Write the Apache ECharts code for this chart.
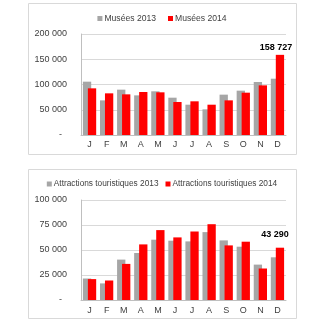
<!DOCTYPE html>
<html><head><meta charset="utf-8">
<script src="https://cdn.jsdelivr.net/npm/echarts@6/dist/echarts.min.js"></script>
<style>html,body{margin:0;padding:0;background:#fff}#c{width:324px;height:324px}</style>
</head><body><div id="c"></div>
<script>
var months = ['J','F','M','A','M','J','J','A','S','O','N','D'];
var museesNames = ['Musées 2013','Musées 2014'];
var musees2013 = [105600, 68600, 89800, 78500, 86500, 73900, 60000, 50800, 79900, 87800, 105000, 111500];
var musees2014 = [92400, 82500, 80500, 85100, 84500, 65300, 66700, 60000, 68600, 83800, 98300, 158727];
var attrNames = ['Attractions touristiques 2013','Attractions touristiques 2014'];
var attr2013 = [21500, 16600, 40400, 47000, 60300, 59300, 58600, 67900, 59600, 53300, 35400, 42700];
var attr2014 = [20900, 19500, 36100, 55600, 69900, 62600, 68500, 75800, 54600, 58300, 31500, 52300];
var museesLabel = '158 727';
var attrLabel = '43 290';
var yTicks1 = {min:0, max:200000, interval:50000};
var yTicks2 = {min:0, max:100000, interval:25000};

var FONT = 'Liberation Sans';
var TXT = '#404040';
function fmt(v){ if(v===0) return '-  '; return String(v).replace(/\B(?=(\d{3})+(?!\d))/g,' '); }
function lastLabel(arr, text, off){
  return arr.map(function(v,i){
    if(i===arr.length-1) return {value:v, label:{show:true, position:'top', distance:3, offset:off, formatter:text, fontFamily:FONT, fontSize:9, fontWeight:'bold', color:'#000'}};
    return v;
  });
}
var GRAY='#a6a6a6', RED='#ff0000';
function xAx(gi, margin){ return {type:'category', gridIndex:gi, data:months, axisTick:{show:false}, axisLine:{lineStyle:{color:'#bfbfbf'}}, axisLabel:{fontFamily:FONT, fontSize:9, color:TXT, margin:margin}}; }
function yAx(gi, t){ return {type:'value', gridIndex:gi, min:t.min, max:t.max, interval:t.interval, axisLine:{show:true, lineStyle:{color:'#bfbfbf'}}, axisTick:{show:false}, splitLine:{lineStyle:{color:'#d9d9d9'}}, axisLabel:{fontFamily:FONT, fontSize:9, color:TXT, margin:14, formatter:fmt}}; }
var chart = echarts.init(document.getElementById('c'), null, {renderer:'canvas'});
chart.setOption({
  animation:false,
  color:[GRAY, RED],
  graphic:[
    {type:'rect', shape:{x:28.5, y:3.5, width:268, height:151}, style:{fill:'none', stroke:'#d9d9d9', lineWidth:1}, silent:true},
    {type:'rect', shape:{x:28.5, y:169.5, width:268, height:149}, style:{fill:'none', stroke:'#d9d9d9', lineWidth:1}, silent:true}
  ],
  legend:[
    {data:museesNames, top:9, left:'center', icon:'rect', itemWidth:5, itemHeight:5, itemGap:12, itemStyle:{}, textStyle:{fontFamily:FONT, fontSize:8.6, color:TXT, padding:[0,0,0,-3]}},
    {data:attrNames, top:175, left:'center', icon:'rect', itemWidth:5, itemHeight:5, itemGap:7, textStyle:{fontFamily:FONT, fontSize:8.3, color:TXT, padding:[0,0,0,-3]}}
  ],
  grid:[
    {left:81, right:38, top:34, height:101},
    {left:81, right:38, top:200, height:100}
  ],
  xAxis:[xAx(0,5), xAx(1,6)],
  yAxis:[yAx(0,yTicks1), yAx(1,yTicks2)],
  series:[
    {type:'bar', name:museesNames[0], xAxisIndex:0, yAxisIndex:0, data:musees2013, barWidth:8.3, barGap:'-40%', itemStyle:{color:GRAY}},
    {type:'bar', name:museesNames[1], xAxisIndex:0, yAxisIndex:0, data:lastLabel(musees2014, museesLabel, [-4,0]), barWidth:8.3, barGap:'-40%', itemStyle:{color:RED}},
    {type:'bar', name:attrNames[0], xAxisIndex:1, yAxisIndex:1, data:attr2013, barWidth:8.3, barGap:'-40%', itemStyle:{color:GRAY}},
    {type:'bar', name:attrNames[1], xAxisIndex:1, yAxisIndex:1, data:lastLabel(attr2014, attrLabel, [-5,-6]), barWidth:8.3, barGap:'-40%', itemStyle:{color:RED}}
  ]
});
</script></body></html>
